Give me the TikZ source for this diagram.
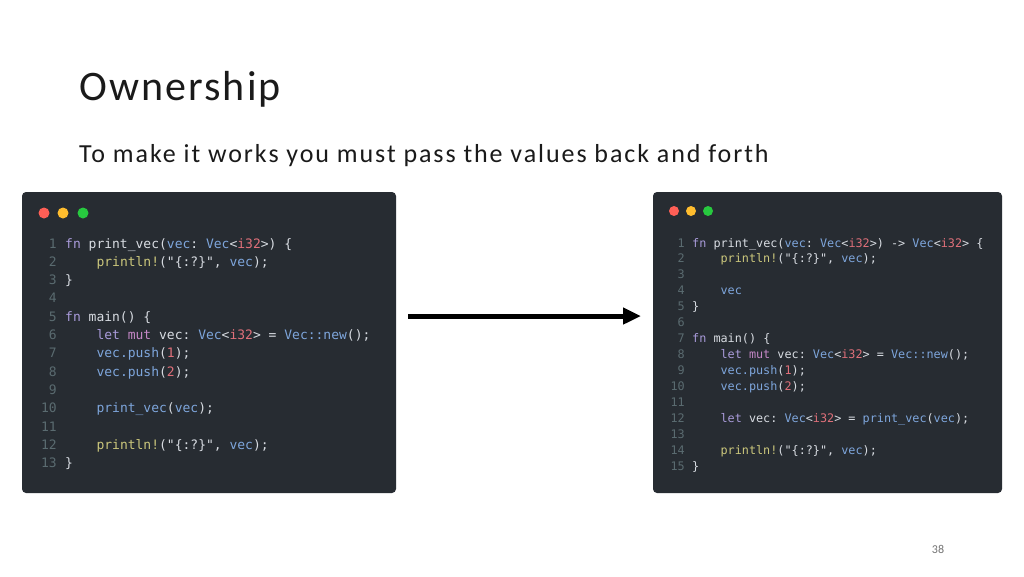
\documentclass[tikz,border=0pt]{standalone}
\usepackage{fontspec}
\setmainfont{Carlito}
\setmonofont{DejaVu Sans Mono}
\newfontfamily\titlefont[LetterSpace=5]{Carlito}
\newfontfamily\subfont[LetterSpace=7.4]{Carlito}
\usetikzlibrary{arrows.meta}
\definecolor{bg}{HTML}{272C32}
\definecolor{ckwc}{HTML}{A99BDA}
\definecolor{cmutc}{HTML}{C487C6}
\definecolor{cplc}{HTML}{D8DCE2}
\definecolor{cbluc}{HTML}{7EA6DC}
\definecolor{credc}{HTML}{E0707A}
\definecolor{cyelc}{HTML}{CBC77C}
\definecolor{clnc}{HTML}{5A6B70}
\definecolor{dred}{HTML}{FF5F56}
\definecolor{dyel}{HTML}{FFBD2E}
\definecolor{dgrn}{HTML}{27C93F}
\definecolor{titlec}{HTML}{1A1A1A}
\newcommand\ckw[1]{\textcolor{ckwc}{#1}}
\newcommand\cmut[1]{\textcolor{cmutc}{#1}}
\newcommand\cblu[1]{\textcolor{cbluc}{#1}}
\newcommand\cred[1]{\textcolor{credc}{#1}}
\newcommand\cyel[1]{\textcolor{cyelc}{#1}}
\newcommand\lline[3]{%
  \node[lnum,anchor=base east] (Ln#1) at (57, {248+(#1-1)*18.33}) {#1};
  \node[lcode,anchor=base west] (Lc#1) at ({65+#2*7.83}, {248+(#1-1)*18.33}) {#3};}
\newcommand\rline[3]{%
  \node[rnum,anchor=base east] (Rn#1) at (685, {247+(#1-1)*15.93}) {#1};
  \node[rcode,anchor=base west] (Rc#1) at ({692+#2*7.1}, {247+(#1-1)*15.93}) {#3};}
\begin{document}
\begin{tikzpicture}[x=1pt,y=-1pt,
  panel/.style={fill=bg, rounded corners=4pt, draw=none},
  lnum/.style={inner sep=0pt, text=clnc, font=\ttfamily\fontsize{13}{15}\selectfont},
  lcode/.style={inner sep=0pt, text=cplc, font=\ttfamily\fontsize{13}{15}\selectfont},
  rnum/.style={inner sep=0pt, text=clnc, font=\ttfamily\fontsize{11.8}{14}\selectfont},
  rcode/.style={inner sep=0pt, text=cplc, font=\ttfamily\fontsize{11.8}{14}\selectfont},
  arrowline/.style={line width=5pt, draw=black, -{Triangle[length=18pt,width=16pt]}}
]
\useasboundingbox[fill=white] (0,0) rectangle (1024,576);

\node[anchor=base west, inner sep=0pt, text=titlec, font=\titlefont\fontsize{42}{50}\selectfont] (title) at (79,100) {Ownership};
\node[anchor=base west, inner sep=0pt, text=titlec, font=\subfont\fontsize{26}{30}\selectfont] (sub) at (79,162) {To make it works you must pass the values back and forth};
\node[inner sep=0pt, text=black!55, font=\fontsize{12}{14}\selectfont] (pg) at (938,549) {38};

% left panel
\fill[panel] (22,192) rectangle (396,493);
\fill[dred] (44,213) circle (5.5);
\fill[dyel] (63,213) circle (5.5);
\fill[dgrn] (83,213) circle (5.5);

\lline{1}{0}{\ckw{fn} print\_vec(\cblu{vec}: \cblu{Vec}<\cred{i32}>) \{}
\lline{2}{4}{\cyel{println!}("\{:?\}", \cblu{vec});}
\lline{3}{0}{\}}
\lline{4}{0}{}
\lline{5}{0}{\ckw{fn} main() \{}
\lline{6}{4}{\ckw{let} \cmut{mut} vec: \cblu{Vec}<\cred{i32}> = \cblu{Vec::new}();}
\lline{7}{4}{\cblu{vec.push}(\cred{1});}
\lline{8}{4}{\cblu{vec.push}(\cred{2});}
\lline{9}{0}{}
\lline{10}{4}{\cblu{print\_vec}(\cblu{vec});}
\lline{11}{0}{}
\lline{12}{4}{\cyel{println!}("\{:?\}", \cblu{vec});}
\lline{13}{0}{\}}

% right panel
\fill[panel] (653,192) rectangle (1002,493);
\fill[dred] (674,211) circle (5);
\fill[dyel] (691,211) circle (5);
\fill[dgrn] (708,211) circle (5);

\rline{1}{0}{\ckw{fn} print\_vec(\cblu{vec}: \cblu{Vec}<\cred{i32}>) -> \cblu{Vec}<\cred{i32}> \{}
\rline{2}{4}{\cyel{println!}("\{:?\}", \cblu{vec});}
\rline{3}{0}{}
\rline{4}{4}{\cblu{vec}}
\rline{5}{0}{\}}
\rline{6}{0}{}
\rline{7}{0}{\ckw{fn} main() \{}
\rline{8}{4}{\ckw{let} \cmut{mut} vec: \cblu{Vec}<\cred{i32}> = \cblu{Vec::new}();}
\rline{9}{4}{\cblu{vec.push}(\cred{1});}
\rline{10}{4}{\cblu{vec.push}(\cred{2});}
\rline{11}{0}{}
\rline{12}{4}{\ckw{let} vec: \cblu{Vec}<\cred{i32}> = \cblu{print\_vec}(\cblu{vec});}
\rline{13}{0}{}
\rline{14}{4}{\cyel{println!}("\{:?\}", \cblu{vec});}
\rline{15}{0}{\}}

% arrow
\coordinate (a1) at (408,316);
\coordinate (a2) at (641,316);
\draw[arrowline] (a1) -- (a2);
\end{tikzpicture}
\end{document}
